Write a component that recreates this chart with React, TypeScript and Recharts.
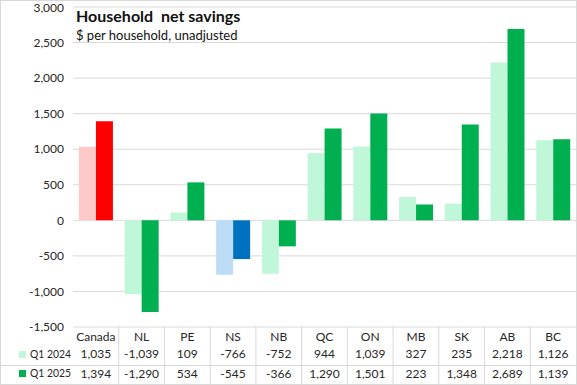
import React from 'react';
import { BarChart, Bar, XAxis, YAxis, CartesianGrid, Cell } from 'recharts';

const CATEGORIES = ['Canada', 'NL', 'PE', 'NS', 'NB', 'QC', 'ON', 'MB', 'SK', 'AB', 'BC'];
const Q1_2024 = [1035, -1039, 109, -766, -752, 944, 1039, 327, 235, 2218, 1126];
const Q1_2025 = [1394, -1290, 534, -545, -366, 1290, 1501, 223, 1348, 2689, 1139];
const Y_TICKS = [-1500, -1000, -500, 0, 500, 1000, 1500, 2000, 2500, 3000];

const LIGHT_COLORS = ['#ffc9c9', '#c0f7d9', '#c0f7d9', '#bddcf5', '#c0f7d9', '#c0f7d9', '#c0f7d9', '#c0f7d9', '#c0f7d9', '#c0f7d9', '#c0f7d9'];
const DARK_COLORS = ['#ff0000', '#00b050', '#00b050', '#0070c0', '#00b050', '#00b050', '#00b050', '#00b050', '#00b050', '#00b050', '#00b050'];

const W = 577;
const H = 385;
const LEFT = 73;
const PLOT_BOTTOM = 327;
const FONT = 'Lato, "Liberation Sans", sans-serif';
const GRID = '#d9d9d9';

const chartData = CATEGORIES.map((name, i) => ({
  name,
  q24: Q1_2024[i],
  q25: Q1_2025[i],
}));

const fmt = (v: number) => v.toLocaleString('en-US');

// x-axis tick doubles as the data table under the plot
const TableTick = (props: any) => {
  const { x, payload, index } = props;
  const half = (W - 1 - LEFT) / CATEGORIES.length / 2;
  const last = index === CATEGORIES.length - 1;
  return (
    <g fontFamily={FONT} fontSize={12} fill="#262626">
      {!last && <line x1={x + half} x2={x + half} y1={PLOT_BOTTOM} y2={H} stroke={GRID} />}
      <text x={x} y={341} textAnchor="middle">{payload.value}</text>
      <text x={x} y={358} textAnchor="middle">{fmt(Q1_2024[index])}</text>
      <text x={x} y={378} textAnchor="middle">{fmt(Q1_2025[index])}</text>
      {index === 0 && (
        <g>
          <line x1={0} x2={W} y1={365.5} y2={365.5} stroke={GRID} />
          <rect x={19} y={351} width={7} height={7} fill={LIGHT_COLORS[1]} />
          <text x={30} y={358} textLength={41} lengthAdjust="spacingAndGlyphs">Q1 2024</text>
          <rect x={19} y={370} width={7} height={7} fill={DARK_COLORS[1]} />
          <text x={30} y={377} textLength={41} lengthAdjust="spacingAndGlyphs">Q1 2025</text>
        </g>
      )}
    </g>
  );
};

export default function App() {
  return (
    <div style={{ position: 'absolute', left: 0, top: 0, width: W, height: H, background: '#fff' }}>
      <BarChart
        width={W}
        height={H}
        data={chartData}
        margin={{ top: 7, right: 1, bottom: 0, left: 0 }}
        barCategoryGap="13%"
        barGap={0}
      >
        <CartesianGrid vertical={false} stroke={GRID} />
        <XAxis
          dataKey="name"
          height={H - PLOT_BOTTOM}
          axisLine={false}
          tickLine={false}
          interval={0}
          tick={<TableTick />}
        />
        <YAxis
          width={LEFT}
          domain={[-1500, 3000]}
          ticks={Y_TICKS}
          axisLine={false}
          tickLine={false}
          tickMargin={3}
          tickFormatter={fmt}
          tick={{ fontSize: 12, fill: '#262626', fontFamily: FONT }}
        />
        <Bar dataKey="q24" isAnimationActive={false}>
          {chartData.map((_, i) => (
            <Cell key={i} fill={LIGHT_COLORS[i]} />
          ))}
        </Bar>
        <Bar dataKey="q25" isAnimationActive={false}>
          {chartData.map((_, i) => (
            <Cell key={i} fill={DARK_COLORS[i]} />
          ))}
        </Bar>
      </BarChart>
      <div style={{ position: 'absolute', left: 76, top: 6, fontFamily: FONT, color: '#111', whiteSpace: 'pre' }}>
        <div style={{ fontSize: 16, fontWeight: 'bold', lineHeight: '20px' }}>Household  net savings</div>
        <div style={{ fontSize: 13, lineHeight: '18px' }}>$ per household, unadjusted</div>
      </div>
      <div style={{ position: 'absolute', left: 0, top: 0, width: W - 2, height: H - 2, border: `1px solid ${GRID}`, pointerEvents: 'none' }} />
    </div>
  );
}
